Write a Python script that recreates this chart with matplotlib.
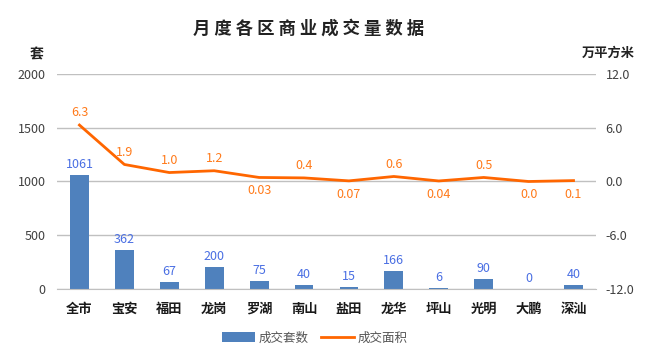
import matplotlib
matplotlib.use("Agg")
import matplotlib.pyplot as plt
from matplotlib.lines import Line2D
from matplotlib.patches import Patch

plt.rcParams['font.family'] = ['Noto Sans CJK SC', 'DejaVu Sans']

districts = ['全市', '宝安', '福田', '龙岗', '罗湖', '南山', '盐田', '龙华', '坪山', '光明', '大鹏', '深汕']
units = [1061, 362, 67, 200, 75, 40, 15, 166, 6, 90, 0, 40]
area = [6.3, 1.9, 1.0, 1.2, 0.45, 0.4, 0.07, 0.56, 0.06, 0.45, 0.0, 0.1]
area_labels = ['6.3', '1.9', '1.0', '1.2', '0.03', '0.4', '0.07', '0.6', '0.04', '0.5', '0.0', '0.1']
area_label_below = [False, False, False, False, True, False, True, False, True, False, True, True]
left_ticks = [0, 500, 1000, 1500, 2000]
right_ticks = [-12.0, -6.0, 0.0, 6.0, 12.0]

bar_color = '#4F81BD'
line_color = '#FF6600'
bar_label_color = '#4A6FE3'
line_label_color = '#FF7A1A'

fig = plt.figure(figsize=(6.49, 3.53), dpi=100)
ax = fig.add_axes([0.0878, 0.1813, 0.8305, 0.6091])
x = list(range(len(districts)))
ax.bar(x, units, width=0.42, color=bar_color, zorder=2)
ax.set_ylim(0, 2000)
ax.set_xlim(-0.5, len(districts) - 0.5)
ax.set_yticks(left_ticks)
ax.set_yticklabels([str(t) for t in left_ticks])
ax.grid(axis='y', color='#C0C0C0', linewidth=1, zorder=0)
for s in ['top', 'left', 'right']:
    ax.spines[s].set_visible(False)
ax.spines['bottom'].set_color('#C0C0C0')
ax.tick_params(axis='both', length=0)
ax.tick_params(axis='y', labelsize=9, labelcolor='#404040', pad=8)
ax.set_xticks(x)
ax.set_xticklabels(districts, fontsize=9.5, fontweight='bold', color='#1a1a1a')
ax.tick_params(axis='x', pad=9)
for xi, v in zip(x, units):
    ax.annotate(str(v), (xi, v), xytext=(0, 3), textcoords='offset points',
                ha='center', va='bottom', fontsize=9, color=bar_label_color)

ax2 = ax.twinx()
ax2.plot(x, area, color=line_color, linewidth=2, zorder=3)
ax2.set_ylim(-12, 12)
ax2.set_yticks(right_ticks)
ax2.set_yticklabels(['%.1f' % t for t in right_ticks])
for s in ['top', 'left', 'right', 'bottom']:
    ax2.spines[s].set_visible(False)
ax2.tick_params(axis='y', length=0, labelsize=9, labelcolor='#404040', pad=7)
for xi, v, lab, below in zip(x, area, area_labels, area_label_below):
    if below:
        ax2.annotate(lab, (xi, v), xytext=(0, -5), textcoords='offset points',
                     ha='center', va='top', fontsize=9, color=line_label_color)
    else:
        ax2.annotate(lab, (xi, v), xytext=(0, 4), textcoords='offset points',
                     ha='center', va='bottom', fontsize=9, color=line_label_color)

fig.text(0.475, 0.92, '月 度 各 区 商 业 成 交 量 数 据', ha='center', va='center',
         fontsize=12.5, fontweight='bold', color='#222222')
fig.text(0.057, 0.847, '套', ha='center', va='center', fontsize=10, fontweight='bold', color='#222222')
fig.text(0.978, 0.85, '万平方米', ha='right', va='center', fontsize=9.5, fontweight='bold', color='#222222')

handles = [Patch(facecolor=bar_color), Line2D([0], [0], color=line_color, linewidth=2)]
fig.legend(handles, ['成交套数', '成交面积'], loc='center', bbox_to_anchor=(0.485, 0.043),
           ncol=2, frameon=False, fontsize=9, handlelength=2.6, handleheight=0.8,
           columnspacing=1.0, handletextpad=0.3, labelcolor='#555555')

fig.savefig('out.png', dpi=100)
